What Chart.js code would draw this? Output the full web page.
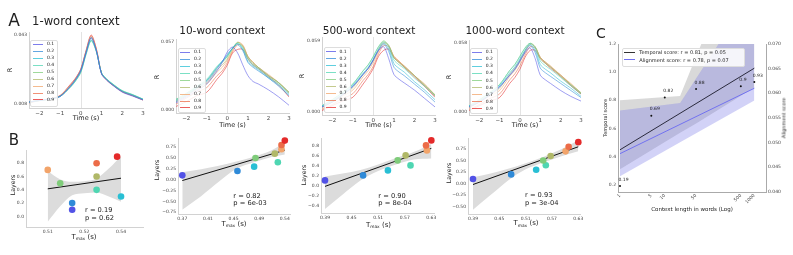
<!DOCTYPE html>
<html>
<head>
<meta charset="utf-8">
<script src="https://cdn.jsdelivr.net/npm/chart.js@4.4.1/dist/chart.umd.min.js"></script>
<style>
  body { margin: 0; width: 793px; height: 255px; position: relative; overflow: hidden; background: #fff;
         font-family: "DejaVu Sans", sans-serif; color: #222; }
  canvas { position: absolute; }
  .t { position: absolute; white-space: nowrap; line-height: 1; transform: translate(-50%, -50%); }
  .lg { position: absolute; background: rgba(255,255,255,0.85); border: 0.6px solid #ddd; border-radius: 2px; }
  .ln { position: absolute; height: 0; }
</style>
</head>
<body>
<canvas id="a1"></canvas><canvas id="a2"></canvas><canvas id="a3"></canvas><canvas id="a4"></canvas>
<canvas id="b1"></canvas><canvas id="b2"></canvas><canvas id="b3"></canvas><canvas id="b4"></canvas>
<canvas id="c1"></canvas>
<script>
// ---- data ----
const layers = ['0.1','0.2','0.3','0.4','0.5','0.6','0.7','0.8','0.9'];
const layerVals = [0.1,0.2,0.3,0.4,0.5,0.6,0.7,0.8,0.9];
const layerColors = ['#5252e6','#2f8ad8','#29bfd4','#4fd6b2','#7fcc7a','#b0b868','#f2a46a','#ec6c48','#e42a2a'];

const contextTitles = ['1-word context','10-word context','500-word context','1000-word context'];
const timeS = [-2.5,-2,-1.5,-1,-0.5,-0.25,0,0.25,0.5,0.75,1,1.25,1.5,2,2.5,3];
const timeTicks = [-2,-1,0,1,2,3];

// R per layer (rows 0.1 .. 0.9), one column per timeS entry
const r1Word = [
  [0.0090,0.0098,0.0105,0.0118,0.0170,0.0205,0.0250,0.0340,0.0415,0.0350,0.0232,0.0200,0.0178,0.0140,0.0120,0.0100],
  [0.0090,0.0099,0.0106,0.0120,0.0172,0.0205,0.0252,0.0342,0.0418,0.0352,0.0235,0.0203,0.0180,0.0143,0.0123,0.0102],
  [0.0089,0.0098,0.0105,0.0119,0.0168,0.0200,0.0245,0.0335,0.0405,0.0348,0.0236,0.0205,0.0183,0.0146,0.0126,0.0104],
  [0.0089,0.0097,0.0104,0.0118,0.0165,0.0197,0.0240,0.0330,0.0400,0.0345,0.0238,0.0207,0.0185,0.0148,0.0128,0.0105],
  [0.0089,0.0097,0.0104,0.0118,0.0166,0.0198,0.0242,0.0332,0.0402,0.0346,0.0237,0.0206,0.0184,0.0147,0.0127,0.0104],
  [0.0090,0.0098,0.0105,0.0120,0.0172,0.0205,0.0250,0.0340,0.0415,0.0350,0.0236,0.0204,0.0182,0.0145,0.0125,0.0103],
  [0.0090,0.0099,0.0106,0.0121,0.0175,0.0208,0.0253,0.0345,0.0422,0.0355,0.0236,0.0203,0.0181,0.0144,0.0124,0.0102],
  [0.0088,0.0098,0.0106,0.0122,0.0178,0.0210,0.0256,0.0348,0.0426,0.0358,0.0235,0.0202,0.0180,0.0143,0.0123,0.0101],
  [0.0085,0.0097,0.0106,0.0123,0.0180,0.0212,0.0258,0.0350,0.0430,0.0360,0.0234,0.0201,0.0179,0.0142,0.0122,0.0100]
];
const r10Word = [
  [0.006,0.011,0.016,0.022,0.033,0.040,0.049,0.053,0.048,0.038,0.029,0.024,0.022,0.017,0.011,0.004],
  [0.007,0.012,0.018,0.024,0.035,0.041,0.047,0.052,0.055,0.050,0.040,0.036,0.033,0.027,0.020,0.012],
  [0.008,0.013,0.019,0.025,0.036,0.041,0.046,0.052,0.056,0.051,0.041,0.037,0.034,0.027,0.021,0.013],
  [0.009,0.014,0.020,0.026,0.037,0.041,0.045,0.052,0.056,0.052,0.043,0.038,0.035,0.028,0.022,0.014],
  [0.009,0.014,0.019,0.025,0.036,0.040,0.045,0.052,0.057,0.053,0.044,0.039,0.036,0.029,0.023,0.015],
  [0.008,0.013,0.018,0.023,0.034,0.038,0.043,0.051,0.057,0.054,0.045,0.040,0.036,0.029,0.023,0.015],
  [0.007,0.012,0.017,0.022,0.032,0.036,0.042,0.050,0.057,0.055,0.045,0.040,0.036,0.030,0.023,0.015],
  [0.005,0.010,0.015,0.019,0.029,0.033,0.040,0.049,0.055,0.054,0.045,0.040,0.036,0.029,0.023,0.014],
  [0.003,0.007,0.012,0.015,0.026,0.031,0.038,0.048,0.051,0.051,0.043,0.038,0.035,0.028,0.021,0.011]
];
const r500Word = [
  [0.004,0.008,0.014,0.021,0.031,0.036,0.043,0.051,0.054,0.044,0.031,0.027,0.024,0.018,0.011,0.004],
  [0.004,0.008,0.014,0.021,0.031,0.036,0.043,0.051,0.056,0.050,0.037,0.033,0.030,0.023,0.016,0.008],
  [0.005,0.009,0.015,0.022,0.032,0.037,0.044,0.052,0.057,0.052,0.040,0.036,0.033,0.025,0.018,0.010],
  [0.005,0.010,0.016,0.023,0.034,0.039,0.046,0.054,0.058,0.054,0.043,0.039,0.036,0.028,0.021,0.013],
  [0.005,0.010,0.016,0.023,0.034,0.039,0.046,0.054,0.059,0.055,0.045,0.041,0.037,0.030,0.022,0.014],
  [0.004,0.009,0.014,0.020,0.031,0.036,0.043,0.052,0.058,0.055,0.045,0.041,0.038,0.030,0.022,0.014],
  [0.003,0.008,0.013,0.018,0.029,0.034,0.041,0.050,0.057,0.055,0.046,0.042,0.038,0.030,0.023,0.014],
  [0.002,0.006,0.011,0.015,0.026,0.031,0.038,0.048,0.055,0.054,0.046,0.042,0.038,0.030,0.022,0.013],
  [0.001,0.005,0.009,0.012,0.023,0.029,0.036,0.046,0.051,0.052,0.045,0.041,0.037,0.029,0.021,0.012]
];
const r1000Word = [
  [0.004,0.008,0.014,0.021,0.031,0.036,0.043,0.050,0.054,0.045,0.031,0.027,0.024,0.018,0.013,0.009],
  [0.004,0.008,0.014,0.021,0.031,0.036,0.043,0.051,0.056,0.050,0.037,0.033,0.030,0.024,0.018,0.012],
  [0.005,0.009,0.015,0.022,0.033,0.038,0.045,0.052,0.057,0.052,0.040,0.036,0.033,0.026,0.020,0.013],
  [0.005,0.010,0.016,0.023,0.035,0.040,0.047,0.054,0.058,0.054,0.043,0.039,0.036,0.029,0.022,0.015],
  [0.005,0.010,0.016,0.023,0.035,0.040,0.047,0.054,0.058,0.055,0.045,0.041,0.038,0.030,0.023,0.016],
  [0.004,0.009,0.014,0.020,0.032,0.037,0.044,0.052,0.058,0.055,0.046,0.042,0.038,0.031,0.023,0.016],
  [0.003,0.008,0.013,0.018,0.030,0.035,0.042,0.050,0.057,0.055,0.046,0.042,0.039,0.031,0.024,0.016],
  [0.002,0.006,0.011,0.015,0.027,0.032,0.039,0.048,0.055,0.054,0.046,0.042,0.038,0.031,0.023,0.015],
  [0.001,0.005,0.009,0.012,0.024,0.029,0.036,0.046,0.052,0.052,0.045,0.041,0.037,0.030,0.022,0.015]
];
const rTicks1 = [0.008, 0.043];
const rTicks10 = [0.000, 0.057];
const rTicks500 = [0.000, 0.059];
const rTicks1000 = [0.000, 0.058];

// B: time of max per layer
const tmax1 = [0.520,0.520,0.540,0.530,0.5151,0.530,0.510,0.530,0.5384];
const tmax10 = [0.368,0.4618,0.4902,0.5305,0.4925,0.5254,0.5366,0.5367,0.5424];
const tmax500 = [0.390,0.476,0.532,0.583,0.554,0.572,0.620,0.618,0.630];
const tmax1000 = [0.390,0.477,0.534,0.556,0.550,0.567,0.601,0.608,0.630];

const fitX1 = [0.51,0.54], fitY1 = [0.415,0.575];
const fitX10 = [0.368,0.5424], fitY10 = [-0.02,0.68];
const fitX500 = [0.39,0.63], fitY500 = [-0.02,0.74];
const fitX1000 = [0.39,0.63], fitY1000 = [-0.02,0.80];

const ciX1 = [0.51,0.515,0.52,0.525,0.53,0.535,0.54];
const ciLo1 = [-0.08,0.15,0.32,0.35,0.36,0.30,0.22];
const ciHi1 = [0.68,0.56,0.52,0.53,0.57,0.72,0.91];
const ciX10 = [0.368,0.40,0.43,0.46,0.49,0.52,0.5424];
const ciLo10 = [-0.69,-0.38,-0.05,0.25,0.40,0.52,0.58];
const ciHi10 = [0.17,0.24,0.32,0.42,0.53,0.68,0.85];
const ciX500 = [0.39,0.43,0.47,0.51,0.55,0.59,0.63];
const ciLo500 = [-0.47,-0.18,0.10,0.29,0.42,0.52,0.54];
const ciHi500 = [0.18,0.24,0.31,0.42,0.55,0.67,0.83];
const ciX1000 = [0.39,0.43,0.47,0.51,0.55,0.59,0.63];
const ciLo1000 = [-0.57,-0.25,0.07,0.31,0.46,0.59,0.70];
const ciHi1000 = [0.14,0.22,0.32,0.44,0.58,0.74,0.94];

const bxTicks1 = [0.51,0.525,0.54], bxLabels1 = ['0.51','0.52','0.54'];
const bxTicks10 = [0.368,0.4116,0.4552,0.4988,0.5424], bxLabels10 = ['0.37','0.41','0.45','0.49','0.54'];
const bxTicks500 = [0.39,0.45,0.51,0.57,0.63], bxLabels500 = ['0.39','0.45','0.51','0.57','0.63'];
const bxTicks1000 = [0.39,0.45,0.51,0.57,0.63], bxLabels1000 = ['0.39','0.45','0.51','0.57','0.63'];
const byTicks1 = [0,0.2,0.4,0.6,0.8];
const byTicks10 = [-0.75,-0.5,-0.25,0,0.25,0.5,0.75];
const byTicks500 = [-0.4,-0.2,0,0.2,0.4,0.6,0.8];
const byTicks1000 = [-0.5,-0.25,0,0.25,0.5,0.75];
const rText = ['r = 0.19','r = 0.82','r = 0.90','r = 0.93'];
const pText = ['p = 0.62','p = 6e-03','p = 8e-04','p = 3e-04'];

// C: score vs context length
const contextLen = [1,5,10,50,500,1000];
const temporalScore = [0.19,0.69,0.82,0.88,0.9,0.93];
const scoreLabels = ['0.19','0.69','0.82','0.88','0.9','0.93'];
const fitXC = [1,1000];
const temporalFit = [0.448,1.028];
const alignFit = [0.0477,0.0610];
const temporalCiX = [1,22,47,1000];
const temporalCiLo = [0.31,0.57,0.63,0.89];
const temporalCiHi = [0.80,0.83,1.09,2.1];
const alignCiX = [1,22,1000];
const alignCiLo = [0.0431,0.0500,0.0585];
const alignCiHi = [0.0565,0.0580,0.0812];
const cLeftTicks = [0.2,0.4,0.6,0.8,1.0,1.2];
const cRightTicks = [0.040,0.045,0.050,0.055,0.060,0.065,0.070];

// ---- helpers ----
Chart.defaults.font.family = '"DejaVu Sans", sans-serif';
Chart.defaults.color = '#444';
Chart.defaults.animation = false;

const minus = s => String(s).replace('-', '\u2212');
const pts = (xs, ys) => xs.map((x, i) => ({x: x, y: ys[i]}));
function withAlpha(hex, a) {
  const n = parseInt(hex.slice(1), 16);
  return 'rgba(' + (n >> 16) + ',' + ((n >> 8) & 255) + ',' + (n & 255) + ',' + a + ')';
}

function place(id, area, pad) {
  const c = document.getElementById(id);
  c.width = area.r - area.l + pad.l + pad.r;
  c.height = area.b - area.t + pad.t + pad.b;
  c.style.left = (area.l - pad.l) + 'px';
  c.style.top = (area.t - pad.t) + 'px';
  return c;
}

function axis(min, max, ticks, fmt, size, fitSize, isX, color) {
  return {
    type: 'linear', min: min, max: max,
    grid: {display: false, drawTicks: false},
    border: {display: true, color: color || '#d2d2d2', width: 1},
    ticks: {font: {size: size}, padding: 2, autoSkip: false, maxRotation: 0, minRotation: 0, callback: fmt},
    afterBuildTicks: s => { s.ticks = ticks.map(v => ({value: v})); },
    afterFit: isX ? s => { s.height = fitSize; } : s => { s.width = fitSize; }
  };
}

function txt(html, x, y, size, mode) {
  const d = document.createElement('div');
  d.className = 't';
  d.innerHTML = html;
  d.style.left = x + 'px';
  d.style.top = y + 'px';
  d.style.fontSize = size + 'px';
  if (mode === 'rot') d.style.transform = 'translate(-50%,-50%) rotate(-90deg)';
  if (mode === 'left') d.style.transform = 'translate(0,-50%)';
  document.body.appendChild(d);
}

const zeroLine = {
  id: 'zeroLine',
  beforeDatasetsDraw(chart) {
    const {ctx, chartArea, scales} = chart;
    const px = Math.round(scales.x.getPixelForValue(0)) + 0.5;
    ctx.save();
    ctx.strokeStyle = '#e3e3e3';
    ctx.lineWidth = 1;
    ctx.beginPath();
    ctx.moveTo(px, chartArea.top);
    ctx.lineTo(px, chartArea.bottom);
    ctx.stroke();
    ctx.restore();
  }
};

// ---- A: R over time ----
const aPanels = [
  {id: 'a1', area: {l: 29, t: 32, r: 143, b: 108}, series: r1Word, yMin: 0.00597, yMax: 0.0445, ticks: rTicks1},
  {id: 'a2', area: {l: 176, t: 39, r: 289, b: 113}, series: r10Word, yMin: -0.0025, yMax: 0.0598, ticks: rTicks10},
  {id: 'a3', area: {l: 322, t: 37, r: 435, b: 115}, series: r500Word, yMin: -0.0027, yMax: 0.0621, ticks: rTicks500},
  {id: 'a4', area: {l: 469, t: 40, r: 581, b: 115}, series: r1000Word, yMin: -0.0028, yMax: 0.0608, ticks: rTicks1000}
];
const aPad = {l: 18, t: 5, r: 6, b: 10};

aPanels.forEach(p => {
  const c = place(p.id, p.area, aPad);
  new Chart(c, {
    type: 'line',
    data: {
      datasets: p.series.map((vals, i) => ({
        label: layers[i],
        data: pts(timeS, vals),
        borderColor: withAlpha(layerColors[i], 0.7),
        borderWidth: 0.8,
        pointRadius: 0,
        tension: 0.3,
        fill: false
      }))
    },
    options: {
      responsive: false,
      events: [],
      layout: {padding: {top: aPad.t, right: aPad.r, left: 0, bottom: 0}},
      plugins: {legend: {display: false}, tooltip: {enabled: false}},
      scales: {
        x: axis(-2.5, 3, timeTicks, v => minus(v), 5.5, aPad.b, true),
        y: axis(p.yMin, p.yMax, p.ticks, v => v.toFixed(3), 4.5, aPad.l, false)
      }
    },
    plugins: [zeroLine]
  });
});

// ---- B: layer vs Tmax ----
const bPanels = [
  {id: 'b1', area: {l: 26, t: 150, r: 143, b: 227}, x: tmax1, xMin: 0.5011, xMax: 0.549, yMin: -0.16, yMax: 1.0,
   fitX: fitX1, fitY: fitY1, ciX: ciX1, ciLo: ciLo1, ciHi: ciHi1, xt: bxTicks1, xl: bxLabels1, yt: byTicks1, yd: 1},
  {id: 'b2', area: {l: 178, t: 138, r: 290, b: 214}, x: tmax10, xMin: 0.3607, xMax: 0.5512, yMin: -0.79, yMax: 0.96,
   fitX: fitX10, fitY: fitY10, ciX: ciX10, ciLo: ciLo10, ciHi: ciHi10, xt: bxTicks10, xl: bxLabels10, yt: byTicks10, yd: 2},
  {id: 'b3', area: {l: 321, t: 138, r: 434, b: 213}, x: tmax500, xMin: 0.381, xMax: 0.636, yMin: -0.552, yMax: 0.948,
   fitX: fitX500, fitY: fitY500, ciX: ciX500, ciLo: ciLo500, ciHi: ciHi500, xt: bxTicks500, xl: bxLabels500, yt: byTicks500, yd: 1},
  {id: 'b4', area: {l: 468, t: 138, r: 580, b: 214}, x: tmax1000, xMin: 0.3786, xMax: 0.6339, yMin: -0.66, yMax: 0.99,
   fitX: fitX1000, fitY: fitY1000, ciX: ciX1000, ciLo: ciLo1000, ciHi: ciHi1000, xt: bxTicks1000, xl: bxLabels1000, yt: byTicks1000, yd: 2}
];
const bPad = {l: 18, t: 5, r: 6, b: 9};

bPanels.forEach(p => {
  const c = place(p.id, p.area, bPad);
  new Chart(c, {
    type: 'scatter',
    data: {
      datasets: [
        {type: 'line', data: pts(p.ciX, p.ciLo), borderWidth: 0, pointRadius: 0, cubicInterpolationMode: 'monotone', fill: false, order: 3},
        {type: 'line', data: pts(p.ciX, p.ciHi), borderWidth: 0, pointRadius: 0, cubicInterpolationMode: 'monotone',
         fill: '-1', backgroundColor: '#dcdcdc', order: 3},
        {type: 'line', data: pts(p.fitX, p.fitY), borderColor: '#111', borderWidth: 1, pointRadius: 0, order: 2},
        {type: 'scatter', data: pts(p.x, layerVals), pointRadius: 3.3, pointBorderWidth: 0,
         pointBackgroundColor: layerColors, clip: false, order: 1}
      ]
    },
    options: {
      responsive: false,
      events: [],
      layout: {padding: {top: bPad.t, right: bPad.r, left: 0, bottom: 0}},
      plugins: {legend: {display: false}, tooltip: {enabled: false}},
      scales: {
        x: axis(p.xMin, p.xMax, p.xt, (v, i) => p.xl[i], 4.5, bPad.b, true),
        y: axis(p.yMin, p.yMax, p.yt, v => minus(v.toFixed(p.yd)), 4.5, bPad.l, false)
      }
    }
  });
});

// ---- C: scores vs context length ----
const pointLabels = {
  id: 'pointLabels',
  afterDatasetsDraw(chart) {
    const meta = chart.getDatasetMeta(6);
    const ctx = chart.ctx;
    ctx.save();
    ctx.font = '4.5px "DejaVu Sans"';
    ctx.fillStyle = '#222';
    ctx.textBaseline = 'middle';
    meta.data.forEach((pt, i) => ctx.fillText(scoreLabels[i], pt.x - 1.5, pt.y - 6.5));
    ctx.restore();
  }
};

const cArea = {l: 618, t: 44, r: 766, b: 192};
const cPad = {l: 14, t: 5, r: 18, b: 18};
const cCanvas = place('c1', cArea, cPad);
const cY = axis(0.148, 1.2, cLeftTicks, v => v.toFixed(1), 4.5, cPad.l, false, '#aaa');
const cY2 = axis(0.0399, 0.070, cRightTicks, v => v.toFixed(3), 4.5, cPad.r, false, '#aaa');
cY2.position = 'right';
new Chart(cCanvas, {
  type: 'scatter',
  data: {
    datasets: [
      {type: 'line', data: pts(temporalCiX, temporalCiLo), yAxisID: 'y', borderWidth: 0, pointRadius: 0, fill: false, order: 5},
      {type: 'line', data: pts(temporalCiX, temporalCiHi), yAxisID: 'y', borderWidth: 0, pointRadius: 0,
       fill: '-1', backgroundColor: 'rgba(150,150,150,0.36)', order: 5},
      {type: 'line', data: pts(alignCiX, alignCiLo), yAxisID: 'y2', borderWidth: 0, pointRadius: 0, fill: false, order: 4},
      {type: 'line', data: pts(alignCiX, alignCiHi), yAxisID: 'y2', borderWidth: 0, pointRadius: 0,
       fill: '-1', backgroundColor: 'rgba(118,118,232,0.33)', order: 4},
      {type: 'line', data: pts(fitXC, temporalFit), yAxisID: 'y', borderColor: '#1a1a2a', borderWidth: 0.9, pointRadius: 0, order: 2},
      {type: 'line', data: pts(fitXC, alignFit), yAxisID: 'y2', borderColor: '#6a6af2', borderWidth: 0.9, pointRadius: 0, order: 2},
      {type: 'scatter', data: pts(contextLen, temporalScore), yAxisID: 'y', pointRadius: 1, pointBorderWidth: 0,
       pointBackgroundColor: '#111', clip: false, order: 1}
    ]
  },
  options: {
    responsive: false,
    events: [],
    layout: {padding: {top: cPad.t, right: 0, left: 0, bottom: 0}},
    plugins: {legend: {display: false}, tooltip: {enabled: false}},
    scales: {
      x: {
        type: 'logarithmic', min: 0.902, max: 1824,
        grid: {display: false, drawTicks: false},
        border: {display: true, color: '#aaa', width: 1},
        ticks: {font: {size: 4.5}, padding: 1, autoSkip: false, minRotation: 45, maxRotation: 45, callback: v => String(v)},
        afterBuildTicks: s => { s.ticks = contextLen.map(v => ({value: v})); },
        afterFit: s => { s.height = cPad.b; }
      },
      y: cY,
      y2: cY2
    }
  },
  plugins: [pointLabels]
});

// ---- text ----
txt('A', 14, 19.7, 17);
txt('B', 14, 139.5, 15);
txt('C', 601, 33.3, 14);
txt(contextTitles[0], 75.8, 21.7, 11.6);
txt(contextTitles[1], 222.2, 30, 10.5);
txt(contextTitles[2], 369, 29.5, 10.5);
txt(contextTitles[3], 515, 29.5, 10.5);

[[10, 70], [156.5, 76.7], [302, 76], [448.7, 77]].forEach(p => txt('R', p[0], p[1], 6.5, 'rot'));
[[86, 117.5], [232.5, 124.8], [378.5, 124.5], [525, 124.5]].forEach(p => txt('Time (s)', p[0], p[1], 6.5));
[[13, 185], [156.7, 170], [304, 175], [449, 173]].forEach(p => txt('Layers', p[0], p[1], 6.2, 'rot'));
const tmaxHtml = 'T<span style="font-size:0.62em;position:relative;top:0.3em">max</span> (s)';
[[84, 236.7], [234, 223.5], [378.5, 225], [526, 223.3]].forEach(p => txt(tmaxHtml, p[0], p[1], 7));
[[85, 209.5, 217.5], [233.3, 195.8, 202.7], [378.3, 196.2, 203], [525, 195, 202.5]].forEach((p, i) => {
  txt(rText[i], p[0], p[1], 6.7, 'left');
  txt(pText[i], p[0], p[2], 6.7, 'left');
});

txt('Temporal score', 605, 118, 5, 'rot');
txt('Alignment score', 784, 118, 5, 'rot');
txt('Context length in words (Log)', 692, 209.5, 5.5);

// legends
function legendBox(b, entries) {
  const box = document.createElement('div');
  box.className = 'lg';
  box.style.left = b.l + 'px'; box.style.top = b.t + 'px';
  box.style.width = (b.r - b.l) + 'px'; box.style.height = (b.b - b.t) + 'px';
  document.body.appendChild(box);
  entries.forEach((e, i) => {
    const y = b.row0 + i * b.step;
    const ln = document.createElement('div');
    ln.className = 'ln';
    ln.style.left = b.lx + 'px'; ln.style.top = (y - e.w / 2) + 'px';
    ln.style.width = b.len + 'px';
    ln.style.borderTop = e.w + 'px solid ' + e.color;
    document.body.appendChild(ln);
    txt(e.label, b.tx, y, b.size, 'left');
  });
}
const aLegendEntries = layers.map((l, i) => ({label: l, color: withAlpha(layerColors[i], 0.75), w: 1}));
legendBox({l: 30, t: 40, r: 56, b: 105, row0: 44.3, step: 6.96, lx: 33, len: 10, tx: 47, size: 4.5}, aLegendEntries);
legendBox({l: 177.5, t: 47.5, r: 204, b: 111, row0: 52.3, step: 6.96, lx: 180, len: 10, tx: 194, size: 4.5}, aLegendEntries);
legendBox({l: 323.5, t: 47, r: 349, b: 110.5, row0: 51.7, step: 6.96, lx: 326, len: 10, tx: 339.5, size: 4.5}, aLegendEntries);
legendBox({l: 470, t: 47.5, r: 495.5, b: 112, row0: 52.3, step: 7.05, lx: 471.7, len: 10, tx: 485.7, size: 4.5}, aLegendEntries);
legendBox({l: 621.7, t: 48.3, r: 743.3, b: 65, row0: 52.3, step: 7.7, lx: 623.5, len: 11, tx: 639.3, size: 5}, [
  {label: 'Temporal score: r = 0.81, p = 0.05', color: '#333', w: 1.5},
  {label: 'Alignment score: r = 0.78, p = 0.07', color: '#7070f0', w: 1.5}
]);
</script>
</body>
</html>
